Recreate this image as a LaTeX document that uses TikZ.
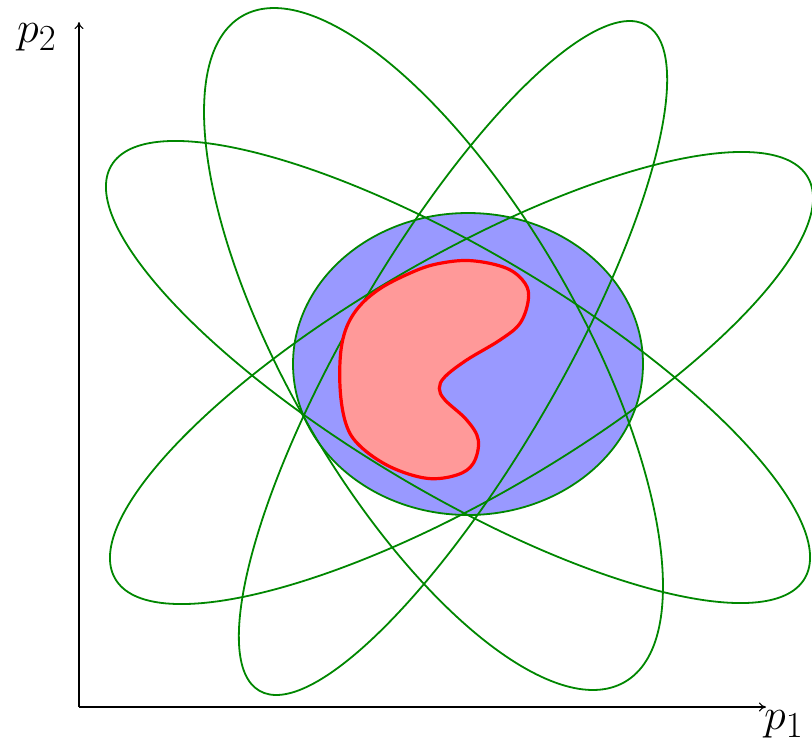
\documentclass[tikz,border=0pt]{standalone}
\usepackage{graphicx}
\usetikzlibrary{arrows.meta}
\definecolor{ellgreen}{RGB}{0,135,0}
\definecolor{setblue}{RGB}{153,153,255}
\definecolor{setred}{RGB}{255,153,153}
\definecolor{edgered}{RGB}{255,0,0}
\newcommand{\biglabel}[1]{\scalebox{1.77}{\Huge$#1$}}
\begin{document}
\begin{tikzpicture}[x=1pt,y=-1pt,
  greenell/.style={draw=ellgreen,line width=1.8},
  axisline/.style={draw=black,line width=1.1,-{To[length=7,width=9]}},
  axislabel/.style={inner sep=0}]
\useasboundingbox (0,0) rectangle (812,745);
% blue set
\fill[setblue,draw=ellgreen,line width=1.8] (468,364) ellipse [x radius=175,y radius=151];
% green ellipses
\draw[greenell,rotate around={-30.8:(458,372)}] (458,372) ellipse [x radius=403.5,y radius=120.3];
\draw[greenell,rotate around={30.1:(461.5,378)}] (461.5,378) ellipse [x radius=400.3,y radius=120];
\draw[greenell,rotate around={-60.15:(433.5,349)}] (433.5,349) ellipse [x radius=384,y radius=146.4];
\draw[greenell,rotate around={59.8:(453,358)}] (453,358) ellipse [x radius=385,y radius=105.7];
% red kidney set
\filldraw[fill=setred,draw=edgered,line width=3.2,line join=round]
  plot[smooth cycle,tension=0.6] coordinates {
  (471.7,260.7) (506.7,268.3) (525,283.3) (528.3,300) (520,323.3) (500,340)
  (466.7,360) (445,376.7) (439.3,388.3) (445,400) (466.7,420) (478.3,440)
  (473.3,463.3) (456.7,475) (426.7,478.3) (390,466.7) (360,446) (346,424)
  (340,386.7) (342,343.3) (354,313.3) (378,290) (413.3,271.7) (440,263.3)};
% axes
\coordinate (O) at (79,707);
\coordinate (Ytip) at (79,22);
\coordinate (Xtip) at (766,707);
\draw[axisline] (O) -- (Ytip);
\draw[axisline] (O) -- (Xtip);
\node[axislabel,anchor=base west] (p2) at (17,42) {\biglabel{p_2}};
\node[axislabel,anchor=base west] (p1) at (764,729) {\biglabel{p_1}};
\end{tikzpicture}
\end{document}
